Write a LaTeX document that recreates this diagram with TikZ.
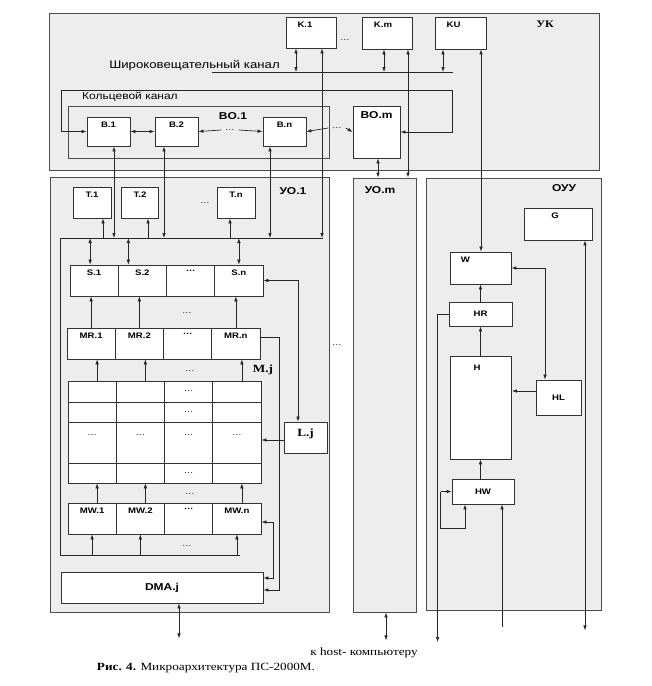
\documentclass[tikz,border=0pt]{standalone}
\usepackage{fontspec}
\setmainfont{Liberation Sans}[FakeStretch=1.2]
\newfontfamily\rmserif{Liberation Serif}[FakeStretch=1.2]
\usetikzlibrary{arrows.meta}
\usetikzlibrary{calc}
\tikzset{>={Latex[length=5pt,width=3.6pt]}}
\tikzstyle{panel}=[draw=black!70,line width=0.8pt,fill=black!7,inner sep=0pt]
\tikzstyle{blk}=[draw=black!80,line width=0.8pt,fill=white,inner sep=0pt]
\tikzstyle{lab}=[font=\fontsize{8}{9}\selectfont\bfseries,inner sep=1pt,anchor=north,yshift=-4pt]
\tikzstyle{plab}=[font=\fontsize{10}{12}\selectfont\bfseries,inner sep=1pt]
\tikzstyle{dots}=[font=\fontsize{8}{9}\selectfont,inner sep=0.5pt]
\tikzset{sz/.style 2 args={minimum width=#1pt,minimum height=#2pt}}
\tikzset{toplab/.style={label={[lab]north:#1}}}

\begin{document}
\begin{tikzpicture}[x=1pt,y=-1pt,line width=0.7pt,draw=black!85]
	\useasboundingbox (0,0) rectangle (652,686);

	% panels
	\node[panel,sz={550}{157}] (uk) at (324,91.5) {};
	\node[panel,sz={279}{435}] (uo1) at (189.5,394.5) {};
	\node[panel,sz={63}{434}] (uom) at (384.5,395) {};
	\node[panel,sz={175}{432}] (ouu) at (513.5,394) {};
	\node[panel,sz={261}{52}] (bo1) at (198.5,132) {};
	\node[font=\rmserif\fontsize{10}{12}\selectfont\bfseries] (uklab) at (545,24) {УК};
	\node[plab] (bo1lab) at (233,116) {BO.1};
	\node[plab] (uo1lab) at (293,191) {УО.1};
	\node[plab] (uomlab) at (380,190) {УО.m};
	\node[plab] (ouulab) at (564,188) {ОУУ};

	% UK
	\node[blk,sz={50}{31},label={[lab,xshift=-6pt]north:K.1}] (k1) at (311,32.5) {};
	\node[blk,sz={50}{32},label={[lab,xshift=-4pt]north:K.m}] (km) at (387,33) {};
	\node[blk,sz={51}{32},label={[lab,xshift=-7pt]north:KU}] (ku) at (460.5,33) {};
	\node[dots] (kdots) at (345,40) {…};
	\node[font=\fontsize{11}{13}\selectfont] (bclab) at (194.5,66) {Широковещательный канал};
	\node[font=\fontsize{10}{12}\selectfont] (ringlab) at (130,97) {Кольцевой канал};
	\coordinate (bcL) at (212,72);
	\coordinate (bcR) at (453,72);
	\coordinate (ringNW) at (61,90);
	\coordinate (ringNE) at (452,90);
	\node[blk,sz={43}{29},toplab=B.1] (b1) at (108.5,131.5) {};
	\node[blk,sz={43}{29},toplab=B.2] (b2) at (176.5,131.5) {};
	\node[blk,sz={43}{29},toplab=B.n] (bn) at (284.5,131.5) {};
	\node[blk,sz={47}{52},label={[plab,anchor=north,yshift=-5pt]north:BO.m}] (bom) at (376.5,132) {};
	\node[dots] (bdots1) at (230,130) {…};
	\node[dots] (bdots2) at (337,128) {…};
	\draw (bcL) -- (bcR);
	\draw[<->] ([xshift=-15pt]k1.south) -- ([xshift=-15pt]k1.south |- bcL);
	\draw[<->] ([xshift=-3pt]km.south) -- ([xshift=-3pt]km.south |- bcL);
	\draw[<->] ([xshift=-17.5pt]ku.south) -- ([xshift=-17.5pt]ku.south |- bcL);
	\draw[<->] (b1.west) -| (ringNW) -- (ringNE) |- (bom.east);
	\draw[<->] (b1.east) -- (b2.west);
	\draw[<-] (b2.east) -- ([xshift=-3pt]bdots1.west);
	\draw[->] ([xshift=3pt]bdots1.east) -- (bn.west);
	\draw[<-] (bn.east) -- ([xshift=-3pt]bdots2.west);
	\draw[->] ([xshift=3pt]bdots2.east) -- (bom.west);

	% UO.1
	\coordinate (busR) at (323,238);
	\coordinate (busL) at (60,238);
	\coordinate (busB) at (60,555);
	\coordinate (busE) at (240,555);
	\node[blk,sz={38}{31},toplab=T.1] (t1) at (92,202.5) {};
	\node[blk,sz={37}{31},toplab=T.2] (t2) at (140,202.5) {};
	\node[blk,sz={38}{31},toplab=T.n] (t4) at (236,202.5) {};
	\node[dots] (tdots) at (205,203) {…};
	\foreach \t [count=\i] in {S.1,S.2,…,S.n}
		\node[blk,sz={48.25}{31},toplab=\t] (s\i) at ({70+48.25*\i-24.125},280.5) {};
	\foreach \t [count=\i] in {MR.1,MR.2,…,MR.n}
		\node[blk,sz={48.25}{31},toplab=\t] (mr\i) at ({67+48.25*\i-24.125},343.5) {};
	\foreach \r/\yc/\h in {1/391.5/21,2/412/20,3/442.5/41,4/473/20}
		\foreach \c in {1,...,4}
			\node[blk,sz={48.25}{\h}] (m\r\c) at ({68+48.25*\c-24.125},\yc) {};
	\foreach \t [count=\i] in {MW.1,MW.2,…,MW.n}
		\node[blk,sz={48.25}{31},toplab=\t] (mw\i) at ({68+48.25*\i-24.125},518.5) {};
	\node[dots] at (m13) {…};
	\node[dots] at (m23) {…};
	\foreach \c in {1,...,4}
		\node[dots] at ([yshift=7pt]m3\c) {…};
	\node[dots] at (m43) {…};
	\node[font=\rmserif\fontsize{11}{13}\selectfont\bfseries] (mjlab) at (263,370) {M.j};
	\node[blk,sz={43}{31},label={[font=\rmserif\fontsize{11}{13}\selectfont\bfseries,anchor=north,yshift=-4pt]north:L.j}] (lj) at (305.5,437.5) {};
	\node[blk,sz={202}{31},font=\fontsize{10}{12}\selectfont\bfseries] (dma) at (162,587.5) {DMA.j};
	\node[dots] (srdots) at (187,313) {…};
	\node[dots] (mrdots) at (190,371) {…};
	\node[dots] (mwdots) at (190,494) {…};
	\node[dots] (busdots) at (187,546) {…};
	\node[dots] (uodots) at (337,345) {…};

	\draw (busR) -- (busL) -- (busB) -- (busE);
	\draw[<->] ([xshift=5.5pt]b1.south) -- ([xshift=5.5pt]b1.south |- busR);
	\draw[<->] ([xshift=-12.5pt]b2.south) -- ([xshift=-12.5pt]b2.south |- busR);
	\draw[<->] ([xshift=-14.5pt]bn.south) -- ([xshift=-14.5pt]bn.south |- busR);
	\draw[<->] ([xshift=11pt]k1.south) -- ([xshift=11pt]k1.south |- busR);
	\foreach \i/\dx in {1/11,2/8,4/-6}
		\draw[->] ([xshift=\dx pt]t\i.south |- busR) -- ([xshift=\dx pt]t\i.south);
	\foreach \i/\dx in {1/-4,2/-14,4/0}
		\draw[<->] ([xshift=\dx pt]s\i.north |- busR) -- ([xshift=\dx pt]s\i.north);
	\foreach \i in {1,2,4} {
		\draw[->] (mr\i.north) -- (mr\i.north |- s\i.south);
		\draw[->] ([xshift=5pt]m1\i.north) -- ([xshift=5pt]m1\i.north |- mr\i.south);
		\draw[->] ([xshift=5pt]mw\i.north) -- ([xshift=5pt]mw\i.north |- m4\i.south);
		\draw[->] (mw\i.south |- busB) -- (mw\i.south);
	}
	\draw[<->] (s4.east) -| ([xshift=-7.5pt]lj.north);
	\draw[->] ([yshift=-2.5pt]lj.west) -- ([yshift=-2.5pt]lj.west -| m34.east);
	\draw[->] ([yshift=6.5pt]mr4.east) -- ++(19,0) |- ([yshift=-2.5pt]dma.east);
	\draw[<->] ([yshift=-3.5pt]mw4.east) -- ++(12,0) |- ([yshift=9.5pt]dma.east);
	\draw[<->] ([xshift=17pt]dma.south) -- ++(0,35);

	% UO.m
	\draw[<->] ([xshift=1.5pt]bom.south) -- ([xshift=1.5pt]bom.south |- uom.north);
	\draw[<->] ([xshift=21pt]km.south) -- ([xshift=21pt]km.south |- uom.north);
	\draw[<->] ([xshift=1.5pt]uom.south) -- ++(0,28);

	% OUU
	\node[blk,sz={68}{32},label={[lab,xshift=-3pt]north:G}] (g) at (558,224) {};
	\node[blk,sz={61}{32},label={[lab,xshift=-15pt]north:W}] (w) at (480.5,268) {};
	\node[blk,sz={63}{24},font=\fontsize{8}{9}\selectfont\bfseries] (hr) at (480.5,314) {HR};
	\node[blk,sz={61}{103},label={[lab,xshift=-4pt,yshift=-4pt]north:H}] (h) at (481,407.5) {};
	\node[blk,sz={45}{35},font=\fontsize{8}{9}\selectfont\bfseries] (hl) at (558.5,397.5) {HL};
	\node[blk,sz={62}{25},font=\fontsize{8}{9}\selectfont\bfseries] (hw) at (483,491.5) {HW};
	\coordinate (hwloop) at ([xshift=-11pt]hw.west);
	\draw[<->] ([xshift=20.5pt]ku.south) -- ([xshift=20.5pt]ku.south |- w.north);
	\draw[->] (hr.north) -- (w.south);
	\draw[->] (hr.south |- h.north) -- (hr.south);
	\draw[->] ([xshift=-2.5pt]hw.north) -- ([xshift=-2.5pt]hw.north |- h.south);
	\draw[->] ([yshift=6.5pt]hl.west) -- ([yshift=6.5pt]hl.west -| h.east);
	\draw[<->] (w.east) -| ([xshift=-13.5pt]hl.north);
	\draw[->] (hr.west) -- ++(-11,0) -- ++(0,328);
	\draw[->] (hwloop) -- (hw.west);
	\draw[->] (hwloop) -- ++(0,36.5) -| ([xshift=-18pt]hw.south);
	\draw[<-] ([xshift=19pt]hw.south) -- ++(0,123);
	\draw[<->] ([xshift=27pt]g.south) -- ++(0,390);

	% captions
	\node[font=\rmserif\fontsize{11}{13}\selectfont] (hostlab) at (364,653) {к host- компьютеру};
	\node[font=\rmserif\fontsize{11}{13}\selectfont] (caption) at (206,668) {\textbf{Рис. 4.} Микроархитектура ПС-2000М.};
\end{tikzpicture}
\end{document}
